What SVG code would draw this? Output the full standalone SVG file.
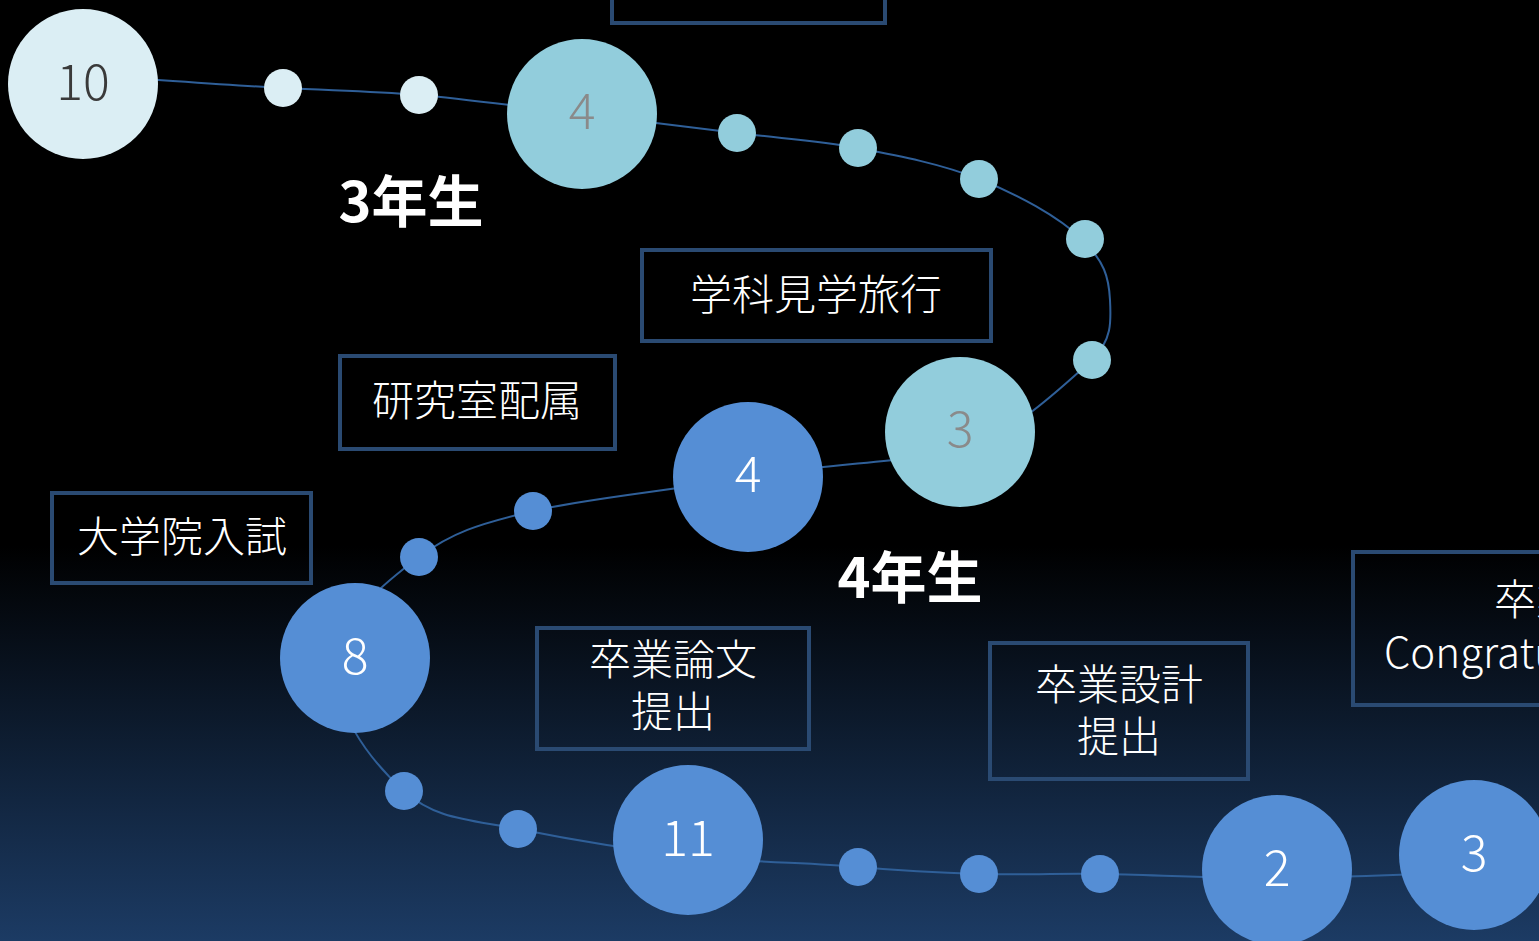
<svg xmlns="http://www.w3.org/2000/svg" width="1539" height="941" viewBox="0 0 1539 941">
<defs>
<linearGradient id="bg" x1="0" y1="0" x2="0" y2="941" gradientUnits="userSpaceOnUse">
<stop offset="0" stop-color="#000000"/>
<stop offset="0.58" stop-color="#000000"/>
<stop offset="1" stop-color="#1c3b64"/>
</linearGradient>
<style>
.box{fill:none;stroke:#2a4a72;stroke-width:4}
.lbl{font-family:"Noto Sans CJK JP","Noto Sans",sans-serif;font-size:42px;font-weight:300;fill:#ffffff;text-anchor:middle}
.yr{font-family:"Noto Sans CJK JP","Noto Sans",sans-serif;font-size:56px;font-weight:700;fill:#ffffff;text-anchor:middle}
.num{font-family:"Noto Sans CJK JP","Noto Sans",sans-serif;font-size:50px;font-weight:300;text-anchor:middle}
.c1{fill:#dbeef4}
.c2{fill:#92cddc}
.c3{fill:#558ed5}
.conn{fill:none;stroke:#2f5f98;stroke-width:2}
</style>
</defs>
<rect x="0" y="0" width="1539" height="941" fill="url(#bg)"/>
<g id="connectors">
<path class="conn" d="M 83 75 C 149.7 79 227 85.2 283 88 C 339 90.8 369.2 90.7 419 95 C 468.8 99.3 529 107.7 582 114 C 635 120.3 691 127.3 737 133 C 783 138.7 817.7 140.3 858 148 C 898.3 155.7 941.2 163.8 979 179 C 1016.8 194.2 1058 216 1083 240 C 1104 262 1108.8 276 1110 300 C 1111.2 322 1112 340 1092 360 C 1067 382 1010 438 960 450 C 910 462 819 464 748 477 C 677 490 588 498 533 511 C 478 524 451 533 419 557 C 387 581 342.5 616 340 655 C 325 705 372 762 404 791 C 436 820 470.7 819.5 518 829 C 565.3 838.5 631.3 849.7 688 856 C 744.7 862.3 809.5 862.7 858 867 C 906.5 871.3 938.7 872.8 979 874 C 1019.3 875.2 1050.3 873.3 1100 874 C 1149.7 874.7 1214.7 878.3 1277 878 C 1339.3 877.7 1408.3 874 1474 872"/>
</g>
<g id="box-top"><rect class="box" x="612" y="-40" width="273" height="63"/></g>
<g id="box-kengaku"><rect class="box" x="642" y="250" width="349" height="91"/><text class="lbl" x="816" y="310">学科見学旅行</text></g>
<g id="box-haizoku"><rect class="box" x="340" y="356" width="275" height="93"/><text class="lbl" x="477" y="416">研究室配属</text></g>
<g id="box-nyushi"><rect class="box" x="52" y="493" width="259" height="90"/><text class="lbl" x="182" y="552">大学院入試</text></g>
<g id="box-ronbun"><rect class="box" x="537" y="628" width="272" height="121"/><text class="lbl" x="673" y="675">卒業論文</text><text class="lbl" x="673" y="727">提出</text></g>
<g id="box-sekkei"><rect class="box" x="990" y="643" width="258" height="136"/><text class="lbl" x="1119" y="700">卒業設計</text><text class="lbl" x="1119" y="752">提出</text></g>
<g id="box-congrats"><rect class="box" x="1353" y="552" width="260" height="153"/><text class="lbl" x="1494" y="615" style="text-anchor:start">卒業</text><text class="lbl" x="1384" y="668" style="text-anchor:start">Congratulations</text></g>
<g id="year3"><text class="yr" x="411" y="222">3年生</text></g>
<g id="year4"><text class="yr" x="910" y="598">4年生</text></g>
<g id="n-oct"><circle class="c1" cx="83" cy="84" r="75"/><text class="num" x="83" y="100" fill="#3a3a3a">10</text></g>
<g id="d1"><circle class="c1" cx="283" cy="88" r="19"/></g>
<g id="d2"><circle class="c1" cx="419" cy="95" r="19"/></g>
<g id="n-apr3"><circle class="c2" cx="582" cy="114" r="75"/><text class="num" x="582" y="129" fill="#8a8a8a">4</text></g>
<g id="d3"><circle class="c2" cx="737" cy="133" r="19"/></g>
<g id="d4"><circle class="c2" cx="858" cy="148" r="19"/></g>
<g id="d5"><circle class="c2" cx="979" cy="179" r="19"/></g>
<g id="d6"><circle class="c2" cx="1085" cy="239" r="19"/></g>
<g id="d7"><circle class="c2" cx="1092" cy="360" r="19"/></g>
<g id="n-mar3"><circle class="c2" cx="960" cy="432" r="75"/><text class="num" x="960" y="447" fill="#8a8a8a">3</text></g>
<g id="n-apr4"><circle class="c3" cx="748" cy="477" r="75"/><text class="num" x="748" y="492" fill="#ffffff">4</text></g>
<g id="d8"><circle class="c3" cx="533" cy="511" r="19"/></g>
<g id="d9"><circle class="c3" cx="419" cy="557" r="19"/></g>
<g id="n-aug"><circle class="c3" cx="355" cy="658" r="75"/><text class="num" x="355" y="674" fill="#ffffff">8</text></g>
<g id="d10"><circle class="c3" cx="404" cy="791" r="19"/></g>
<g id="d11"><circle class="c3" cx="518" cy="829" r="19"/></g>
<g id="n-nov"><circle class="c3" cx="688" cy="840" r="75"/><text class="num" x="688" y="856" fill="#ffffff">11</text></g>
<g id="d12"><circle class="c3" cx="858" cy="867" r="19"/></g>
<g id="d13"><circle class="c3" cx="979" cy="874" r="19"/></g>
<g id="d14"><circle class="c3" cx="1100" cy="874" r="19"/></g>
<g id="n-feb"><circle class="c3" cx="1277" cy="870" r="75"/><text class="num" x="1277" y="886" fill="#ffffff">2</text></g>
<g id="n-mar4"><circle class="c3" cx="1474" cy="855" r="75"/><text class="num" x="1474" y="871" fill="#ffffff">3</text></g>
</svg>
